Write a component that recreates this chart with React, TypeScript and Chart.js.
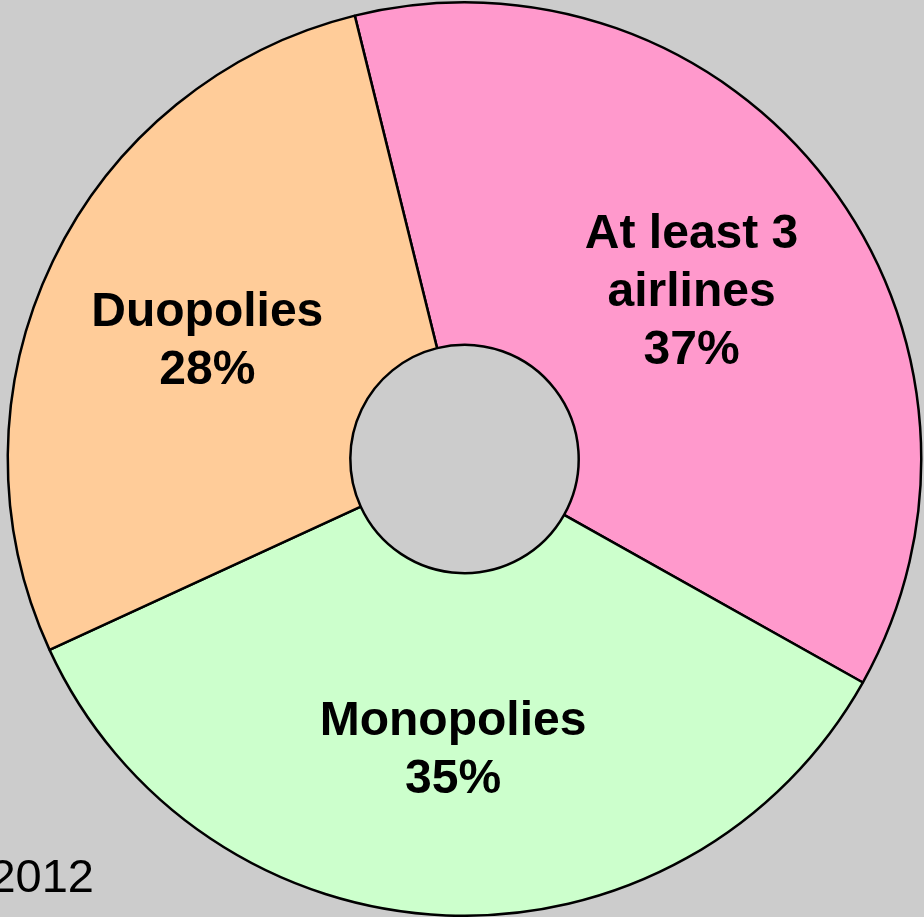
import React, { useEffect, useRef } from "react";
import { Chart, registerables } from "chart.js";

Chart.register(...registerables);

const categories = ["At least 3 airlines", "Monopolies", "Duopolies"];
const labelLines = [["At least 3", "airlines"], ["Monopolies"], ["Duopolies"]];
const shares = [37, 35, 28];
const colors = ["#FF99CC", "#CCFFCC", "#FFCC99"];
const footnote = "2012";

const FONT = '"Liberation Sans", Arial, Helvetica, sans-serif';

const labelPlugin = {
  id: "sliceLabels",
  afterDatasetsDraw(chart: any) {
    const ctx = chart.ctx;
    const meta = chart.getDatasetMeta(0);
    ctx.save();
    ctx.fillStyle = "#000000";
    ctx.textAlign = "center";
    ctx.textBaseline = "alphabetic";
    const fs = 48;
    ctx.font = `bold ${fs}px ${FONT}`;
    meta.data.forEach((arc: any, i: number) => {
      const pos = arc.tooltipPosition();
      const lines = [...labelLines[i], `${shares[i]}%`];
      const lh = 58;
      const n = lines.length;
      lines.forEach((line, j) => {
        const y = pos.y + 3 + (j - (n - 1) / 2) * lh + 0.358 * fs;
        ctx.fillText(line, pos.x, y);
      });
    });
    ctx.font = `47px ${FONT}`;
    ctx.textAlign = "right";
    ctx.fillText(footnote, 94, 892);
    ctx.restore();
  },
};

export default function App() {
  const ref = useRef<HTMLCanvasElement>(null);
  useEffect(() => {
    document.body.style.margin = "0";
    document.body.style.overflow = "hidden";
    const chart = new Chart(ref.current!, {
      type: "doughnut",
      data: {
        labels: categories,
        datasets: [
          {
            data: shares,
            backgroundColor: colors,
            borderColor: "#000000",
            borderWidth: 2.5,
            hoverOffset: 0,
          },
        ],
      },
      options: {
        animation: false,
        responsive: false,
        cutout: "25%",
        rotation: -13.9,
        layout: { padding: { left: 5, right: -1, top: 1, bottom: -5 } },
        plugins: {
          legend: { display: false },
          tooltip: { enabled: false },
        },
        events: [],
      },
      plugins: [labelPlugin],
    });
    return () => chart.destroy();
  }, []);
  return (
    <div
      style={{
        position: "fixed",
        left: 0,
        top: 0,
        width: 924,
        height: 917,
        background: "#CCCCCC",
        overflow: "hidden",
      }}
    >
      <canvas ref={ref} width={924} height={917} style={{ display: "block" }} />
    </div>
  );
}
